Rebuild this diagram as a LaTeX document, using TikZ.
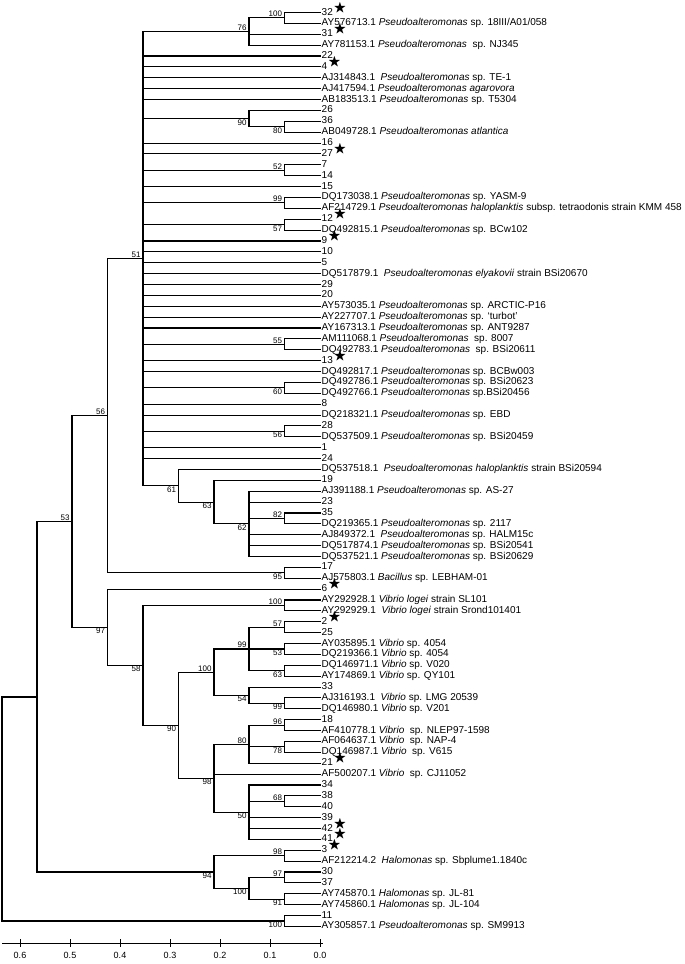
\documentclass[tikz,border=0pt]{standalone}
\usepackage{amssymb}
\usepackage{fontspec}
\setmainfont{Liberation Sans}
\newcommand{\st}{\hspace{1pt}\raisebox{4pt}[0pt][0pt]{\fontsize{13}{13}\selectfont$\bigstar$}}
\tikzset{
  branch/.style={line width=1.1pt,line cap=rect},
  taxon/.style={anchor=west,inner xsep=1.5pt,inner ysep=0pt,text height=7pt,text depth=2pt,font=\fontsize{10}{10}\selectfont},
  bootup/.style={anchor=south east,inner sep=0.8pt,xshift=-1.5pt,font=\fontsize{8}{8}\selectfont},
  bootdn/.style={anchor=north east,inner sep=0.8pt,xshift=-1.5pt,font=\fontsize{8}{8}\selectfont},
  scaletick/.style={line width=0.8pt}
}

\begin{document}
\begin{tikzpicture}[x=1pt,y=-1pt]
  \useasboundingbox (0,0) rectangle (685,964);
  \begin{scope}[y=-10.88pt,yshift=-1.62pt]
  % tips and taxa
  \foreach \lab [count=\i] in {
    {32\st},
    {AY576713.1 \textit{Pseudoalteromonas} sp. 18III/A01/058},
    {31\st},
    {AY781153.1 \textit{Pseudoalteromonas}\ \ sp. NJ345},
    {22},
    {4\st},
    {AJ314843.1\ \ \textit{Pseudoalteromonas} sp. TE-1},
    {AJ417594.1 \textit{Pseudoalteromonas agarovora}},
    {AB183513.1 \textit{Pseudoalteromonas} sp. T5304},
    {26},
    {36},
    {AB049728.1 \textit{Pseudoalteromonas atlantica}},
    {16},
    {27\st},
    {7},
    {14},
    {15},
    {DQ173038.1 \textit{Pseudoalteromonas} sp. YASM-9},
    {AF214729.1 \textit{Pseudoalteromonas haloplanktis} subsp. tetraodonis strain KMM 458},
    {12\st},
    {DQ492815.1 \textit{Pseudoalteromonas} sp. BCw102},
    {9\st},
    {10},
    {5},
    {DQ517879.1\ \ \textit{Pseudoalteromonas elyakovii} strain BSi20670},
    {29},
    {20},
    {AY573035.1 \textit{Pseudoalteromonas} sp. ARCTIC-P16},
    {AY227707.1 \textit{Pseudoalteromonas} sp. `turbot'},
    {AY167313.1 \textit{Pseudoalteromonas} sp. ANT9287},
    {AM111068.1 \textit{Pseudoalteromonas}\ \ sp. 8007},
    {DQ492783.1 \textit{Pseudoalteromonas}\ \ sp. BSi20611},
    {13\st},
    {DQ492817.1 \textit{Pseudoalteromonas} sp. BCBw003},
    {DQ492786.1 \textit{Pseudoalteromonas} sp. BSi20623},
    {DQ492766.1 \textit{Pseudoalteromonas} sp.BSi20456},
    {8},
    {DQ218321.1 \textit{Pseudoalteromonas} sp. EBD},
    {28},
    {DQ537509.1 \textit{Pseudoalteromonas} sp. BSi20459},
    {1},
    {24},
    {DQ537518.1\ \ \textit{Pseudoalteromonas haloplanktis} strain BSi20594},
    {19},
    {AJ391188.1 \textit{Pseudoalteromonas} sp. AS-27},
    {23},
    {35},
    {DQ219365.1 \textit{Pseudoalteromonas} sp. 2117},
    {AJ849372.1\ \ \textit{Pseudoalteromonas} sp. HALM15c},
    {DQ517874.1 \textit{Pseudoalteromonas} sp. BSi20541},
    {DQ537521.1 \textit{Pseudoalteromonas} sp. BSi20629},
    {17},
    {AJ575803.1 \textit{Bacillus} sp. LEBHAM-01},
    {6\st},
    {AY292928.1 \textit{Vibrio logei} strain SL101},
    {AY292929.1\ \ \textit{Vibrio logei} strain Srond101401},
    {2\st},
    {25},
    {AY035895.1 \textit{Vibrio} sp. 4054},
    {DQ219366.1 \textit{Vibrio} sp. 4054},
    {DQ146971.1 \textit{Vibrio} sp. V020},
    {AY174869.1 \textit{Vibrio} sp. QY101},
    {33},
    {AJ316193.1\ \ \textit{Vibrio} sp. LMG 20539},
    {DQ146980.1 \textit{Vibrio} sp. V201},
    {18},
    {AF410778.1 \textit{Vibrio}\ \ sp. NLEP97-1598},
    {AF064637.1 \textit{Vibrio}\ \ sp. NAP-4},
    {DQ146987.1 \textit{Vibrio}\ \ sp. V615},
    {21\st},
    {AF500207.1 \textit{Vibrio}\ \ sp. CJ11052},
    {34},
    {38},
    {40},
    {39},
    {42\st},
    {41\st},
    {3\st},
    {AF212214.2\ \ \textit{Halomonas} sp. Sbplume1.1840c},
    {30},
    {37},
    {AY745870.1 \textit{Halomonas} sp. JL-81},
    {AY745860.1 \textit{Halomonas} sp. JL-104},
    {11},
    {AY305857.1 \textit{Pseudoalteromonas} sp. SM9913}}{
    \coordinate (t\i) at (320,\i);
    \node[taxon] (l\i) at (t\i) {\lab};
  }

  % terminal pairs
  \foreach \n/\a/\v/\p in {n100a/1/100/up, n80/11/80/dn, n52/15/52/up, n99/18/99/up,
      n57/20/57/dn, n55/31/55/up, n60/35/60/dn, n56b/39/56/dn, n82/47/82/up,
      n95/52/95/dn, n100b/55/100/up, n57v/57/57/up, n53v/59/53/dn, n63v/61/63/dn,
      n99b/64/99/dn, n96/66/96/up, n78/68/78/dn, n68/73/68/up, n98h/78/98/up,
      n97h/80/97/up, n91/82/91/dn, n100z/84/100/dn}{
    \pgfmathtruncatemacro{\b}{\a+1}
    \coordinate (\n) at (284.5,\a+0.5);
    \draw[branch] (t\a) -| (\n) |- (t\b);
    \node[boot\p] (b\n) at (\n) {\v};
  }

  % inner nodes
  \coordinate (n76) at (249,2.75);
  \coordinate (n90) at (249,10.75);
  \coordinate (n62) at (249,48);
  \coordinate (n63) at (214,46);
  \coordinate (n61) at (178.5,44.5);
  \coordinate (n51) at (143,23.625);
  \coordinate (n56) at (107.5,38.0625);
  \coordinate (n99v) at (249,59.5);
  \coordinate (n54) at (249,63.75);
  \coordinate (n100c) at (214,61.625);
  \coordinate (n80v) at (249,68.25);
  \coordinate (n50) at (249,74.5);
  \coordinate (n98) at (214,71.375);
  \coordinate (n90v) at (178.5,66.5);
  \coordinate (n58) at (143,61);
  \coordinate (n97) at (107.5,57.5);
  \coordinate (n53) at (72,47.78125);
  \coordinate (n100h) at (249,81.5);
  \coordinate (n94) at (214,80);
  \coordinate (nA) at (37,63.890625);
  \coordinate (root) at (2,74.195);

  \draw[branch] (n76) |- (n100a) (n76) |- (t3) (n76) |- (t4);
  \draw[branch] (n90) |- (t10) (n90) |- (n80);
  \foreach \c in {t45,t46,n82,t49,t50,t51} \draw[branch] (n62) |- (\c);
  \draw[branch] (n63) |- (t44) (n63) |- (n62);
  \draw[branch] (n61) |- (t43) (n61) |- (n63);
  \foreach \c in {n76,t5,t6,t7,t8,t9,n90,t13,t14,n52,t17,n99,n57,t22,t23,t24,t25,
      t26,t27,t28,t29,t30,n55,t33,t34,n60,t37,t38,n56b,t41,t42,n61}
    \draw[branch] (n51) |- (\c);
  \draw[branch] (n56) |- (n51) (n56) |- (n95);
  \draw[branch] (n99v) |- (n57v) (n99v) |- (n53v) (n99v) |- (n63v);
  \draw[branch] (n54) |- (t63) (n54) |- (n99b);
  \draw[branch] (n100c) |- (n99v) (n100c) |- (n54);
  \draw[branch] (n80v) |- (n96) (n80v) |- (n78) (n80v) |- (t70);
  \foreach \c in {t72,n68,t75,t76,t77} \draw[branch] (n50) |- (\c);
  \draw[branch] (n98) |- (n80v) (n98) |- (t71) (n98) |- (n50);
  \draw[branch] (n90v) |- (n100c) (n90v) |- (n98);
  \draw[branch] (n58) |- (n100b) (n58) |- (n90v);
  \draw[branch] (n97) |- (t54) (n97) |- (n58);
  \draw[branch] (n53) |- (n56) (n53) |- (n97);
  \draw[branch] (n100h) |- (n97h) (n100h) |- (n91);
  \draw[branch] (n94) |- (n98h) (n94) |- (n100h);
  \draw[branch] (nA) |- (n53) (nA) |- (n94);
  \draw[branch,line width=1.6pt] (root) |- (nA) (root) |- (n100z);

  \node[bootup] (b76) at (n76) {76};
  \node[bootdn] (b90) at (n90) {90};
  \node[bootdn] (b62) at (n62) {62};
  \node[bootdn] (b63) at (n63) {63};
  \node[bootdn] (b61) at (n61) {61};
  \node[bootup] (b51) at (n51) {51};
  \node[bootup] (b56) at (n56) {56};
  \node[bootup] (b99v) at (n99v) {99};
  \node[bootdn] (b54) at (n54) {54};
  \node[bootup] (b100c) at (n100c) {100};
  \node[bootup] (b80v) at (n80v) {80};
  \node[bootdn] (b50) at (n50) {50};
  \node[bootdn] (b98) at (n98) {98};
  \node[bootdn] (b90v) at (n90v) {90};
  \node[bootdn] (b58) at (n58) {58};
  \node[bootdn] (b97) at (n97) {97};
  \node[bootup] (b53) at (n53) {53};
  \node[bootdn] (b100h) at (n100h) {100};
  \node[bootdn] (b94) at (n94) {94};
  \end{scope}

  % scale
  \draw[scaletick] (2,943) -- (323,943);
  \foreach \v [count=\k from 0] in {0.6,0.5,0.4,0.3,0.2,0.1,0.0}{
    \draw[scaletick] (20+50*\k,939) -- (20+50*\k,947);
    \node[font=\fontsize{9}{9}\selectfont] (ax\k) at (20+50*\k,955) {\v};
  }
\end{tikzpicture}
\end{document}
